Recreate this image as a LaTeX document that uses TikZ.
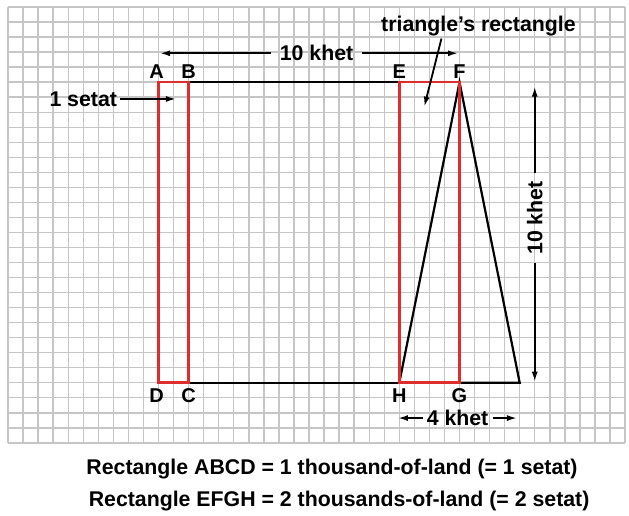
\documentclass[tikz,border=0pt]{standalone}
\usepackage{fontspec}
\setmainfont{Liberation Sans}
\usetikzlibrary{arrows.meta}
\definecolor{gridgray}{RGB}{198,198,198}
\definecolor{redline}{RGB}{222,45,45}
\begin{document}
\begin{tikzpicture}[x=15.05pt,y=-15.03pt,
  gridline/.style={draw=gridgray,line width=1.4pt},
  blk/.style={draw=black,line width=2.2pt},
  redbox/.style={draw=redline,line width=2.6pt},
  arr/.style={draw=black,line width=1.8pt,-{Latex[length=10pt,width=6pt]}},
  lab/.style={font=\bfseries\fontsize{20}{20}\selectfont,inner sep=0pt},
  txt/.style={font=\bfseries\fontsize{21.3}{21.3}\selectfont,inner ysep=2pt}]
\useasboundingbox (-0.5316,-0.4657) rectangle (41.2625,33.865);
\fill[white] (-0.5316,-0.4657) rectangle (41.2625,33.865);
% grid
\foreach \i in {0,...,41} \draw[gridline] (\i,0) -- (\i,29);
\foreach \j in {0,...,29} \draw[gridline] (0,\j) -- (41,\j);
% corner points
\coordinate (A) at (10,5);
\coordinate (B) at (12,5);
\coordinate (C) at (12,25);
\coordinate (D) at (10,25);
\coordinate (E) at (26,5);
\coordinate (F) at (30,5);
\coordinate (G) at (30,25);
\coordinate (H) at (26,25);
\coordinate (T) at (34,25);
% black outline and triangle
\draw[blk] (B) -- (E);
\draw[blk] (C) -- (H);
\draw[blk,line join=miter] (G) -- (T) -- (F) -- (H);
% red rectangles
\draw[redbox] (A) rectangle (C);
\draw[redbox] (E) rectangle (G);
% corner labels
\node[lab] (lA) at (9.88,4.3) {A};
\node[lab] (lB) at (12.0,4.3) {B};
\node[lab] (lE) at (26.0,4.3) {E};
\node[lab] (lF) at (30.0,4.3) {F};
\node[lab] (lD) at (9.88,25.88) {D};
\node[lab] (lC) at (12.0,25.88) {C};
\node[lab] (lH) at (26.0,25.88) {H};
\node[lab] (lG) at (30.0,25.88) {G};
% top dimension
\node[txt,inner xsep=9pt] (t10) at (20.5,3.08) {10 khet};
\coordinate (t10L) at (10.1,3.08);
\coordinate (t10R) at (29.9,3.08);
\draw[arr] (t10.west) -- (t10L);
\draw[arr] (t10.east) -- (t10R);
% 1 setat
\node[txt,inner xsep=3pt] (s1) at (5.0,6.12) {1 setat};
\coordinate (s1tip) at (11.16,6.12);
\draw[arr] (s1.east) -- (s1tip);
% triangle's rectangle
\node[txt,anchor=base] (tr) at (31.26,1.64) {triangle’s rectangle};
\coordinate (trS) at (28.8,2.1);
\coordinate (trE) at (27.66,6.63);
\draw[arr] (trS) -- (trE);
% vertical dimension
\node[txt,inner xsep=8pt,rotate=90] (v10) at (35,14.04) {10 khet};
\coordinate (vTop) at (35,5.3);
\coordinate (vBot) at (35,24.93);
\draw[arr] (v10.east) -- (vTop);
\draw[arr] (v10.west) -- (vBot);
% 4 khet
\node[txt,inner xsep=4pt] (k4) at (29.87,27.35) {4 khet};
\coordinate (k4L) at (25.91,27.35);
\coordinate (k4R) at (33.82,27.35);
\draw[arr] (k4.west) -- (k4L);
\draw[arr] (k4.east) -- (k4R);
% captions
\node[txt] (cap1) at (21.53,30.75) {Rectangle ABCD = 1 thousand-of-land (= 1 setat)};
\node[txt] (cap2) at (22.0,32.9) {Rectangle EFGH = 2 thousands-of-land (= 2 setat)};
\end{tikzpicture}
\end{document}
